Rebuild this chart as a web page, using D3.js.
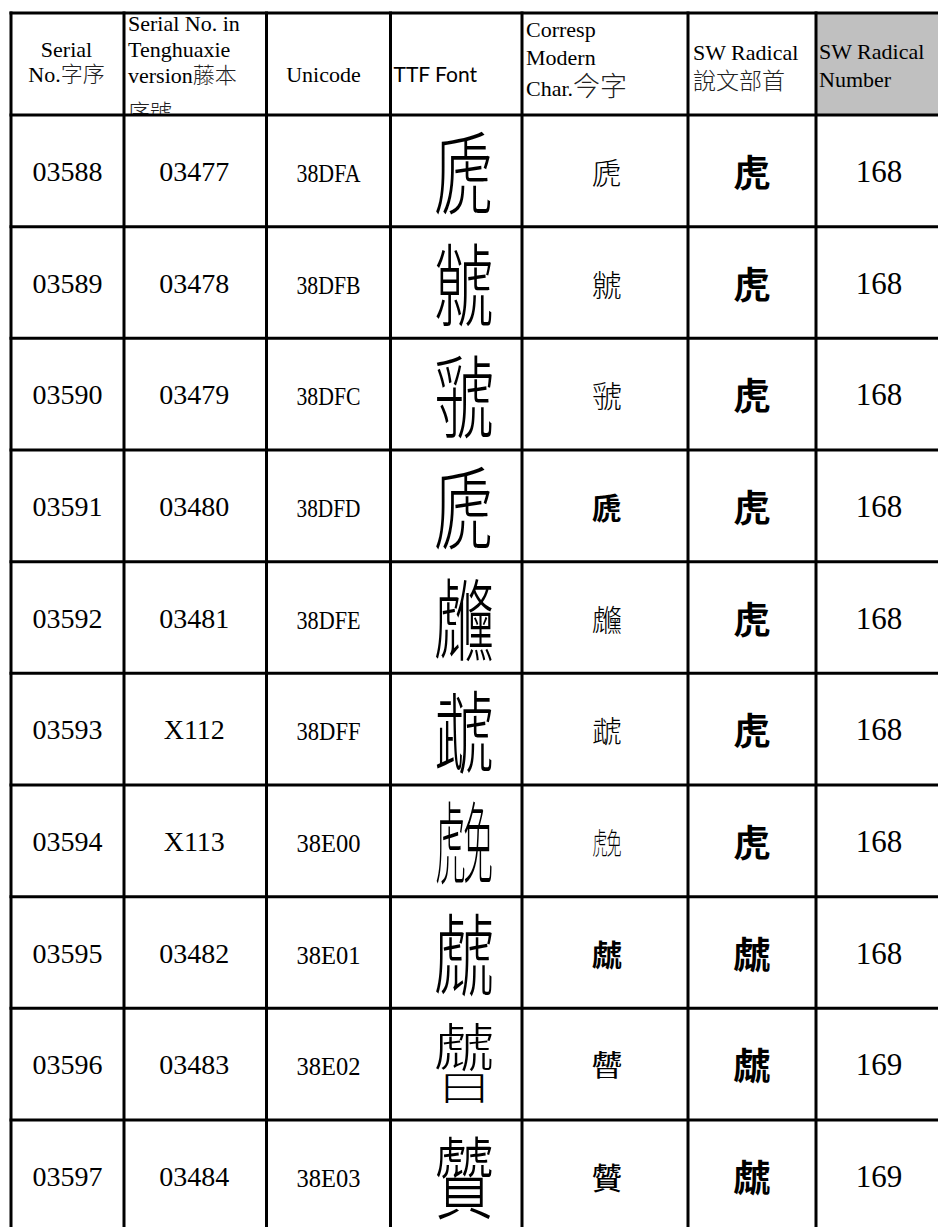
<!DOCTYPE html>
<html><head><meta charset="utf-8">
<script src="https://cdn.jsdelivr.net/npm/d3@7"></script>
<style>html,body{margin:0;padding:0;background:#fff;overflow:hidden}</style>
</head><body>
<svg id="chart" width="938" height="1227"></svg>
<script>
// ---------- data ----------
const serialNo      = ["03588","03589","03590","03591","03592","03593","03594","03595","03596","03597"];
const tenghuaNo     = ["03477","03478","03479","03480","03481","X112","X113","03482","03483","03484"];
const unicodeCodes  = ["38DFA","38DFB","38DFC","38DFD","38DFE","38DFF","38E00","38E01","38E02","38E03"];
const sealChars     = ["虒","虩","虢","虒","虪","虣","虎免","虤","虤曰","贙"];
const modernChars   = ["虒","虩","虢","虒","虪","虣","虎免","虤","虤曰","贙"];
const swRadicals    = ["虎","虎","虎","虎","虎","虎","虎","虤","虤","虤"];
const radicalNums   = ["168","168","168","168","168","168","168","168","169","169"];
const columnKeys    = ["serial","tenghua","unicode","ttf","modern","radical","radnum"];
const headerLines   = [
  ["Serial","No.字序"],
  ["Serial No. in","Tenghuaxie","version藤本","序號"],
  ["Unicode"],
  ["TTF Font"],
  ["Corresp","Modern","Char.今字"],
  ["SW Radical","說文部首"],
  ["SW Radical","Number"]
];

// ---------- layout / style (not data) ----------
const colEdges = [11,124,266.5,390.5,522,688,816,942];
const headTop = 13, headBottom = 115, rowH = 111.67;
const modernWeight = [300,300,300,700,300,300,300,700,500,500];
const glyphCompose = ["h","h","h","h","h","h","h","h","v","h"]; // how multi-part glyphs are stacked

const SERIF = "'Liberation Serif','Times New Roman','Noto Sans CJK TC',serif";
const CJK = "'Noto Sans CJK TC','Noto Sans CJK SC',sans-serif";

const svg = d3.select("#chart");

const xLeft = d3.scaleOrdinal().domain(columnKeys).range(colEdges.slice(0,-1));
const xRight = d3.scaleOrdinal().domain(columnKeys).range(colEdges.slice(1));
const xMid = k => (xLeft(k) + xRight(k)) / 2;
const y = d3.scaleBand().domain(serialNo).range([headBottom, headBottom + rowH*serialNo.length]).padding(0);
const yMid = s => y(s) + y.bandwidth()/2;

// header background for last column
svg.append("rect")
  .attr("x", xLeft("radnum")).attr("y", headTop)
  .attr("width", xRight("radnum") - xLeft("radnum")).attr("height", headBottom - headTop)
  .attr("fill", "#c0c0c0");

const defs = svg.append("defs");
defs.append("clipPath").attr("id","headclip").append("rect")
  .attr("x",0).attr("y",headTop).attr("width",938).attr("height",headBottom-headTop);

const head = svg.append("g").attr("clip-path","url(#headclip)");

function addLines(colKey, lines, opts) {
  lines.forEach((ln, i) => {
    const x = opts.anchor === "middle" ? xMid(colKey) + (opts.dx||0) : xLeft(colKey) + opts.dx;
    const t = head.append("text")
      .attr("x", x).attr("y", opts.baselines[i])
      .attr("font-family", opts.family || SERIF)
      .attr("font-size", opts.size || 22)
      .attr("text-anchor", opts.anchor || "start")
      .attr("fill", "#000");
    const parts = ln.match(/[\u3400-\u9fff\uf900-\ufaff]+|[^\u3400-\u9fff\uf900-\ufaff]+/g);
    parts.forEach(p => {
      const isCJK = /[\u3400-\u9fff]/.test(p);
      t.append("tspan").text(p)
        .attr("font-family", isCJK ? CJK : null)
        .attr("font-weight", isCJK ? 300 : null)
        .attr("fill", isCJK ? "#222" : null)
        .attr("font-size", isCJK && opts.cjkSize ? opts.cjkSize : null);
    });
  });
}
addLines("serial", headerLines[0], {anchor:"middle", dx:-1, baselines:[57,82]});
addLines("tenghua", headerLines[1], {dx:4, baselines:[31,57,83,120]});
addLines("unicode", headerLines[2], {anchor:"middle", dx:-5, baselines:[82]});
addLines("ttf", headerLines[3], {dx:3, family:"Lato,'Liberation Sans',sans-serif", size:21, baselines:[82]});
addLines("modern", headerLines[4], {dx:4, baselines:[37,65,96], cjkSize:27});
addLines("radical", headerLines[5], {dx:5, baselines:[60,89], cjkSize:23});
addLines("radnum", headerLines[6], {dx:3, baselines:[59,87]});

// ---------- body ----------
const rows = svg.append("g").selectAll("g.row")
  .data(serialNo.map((s,i)=>({s, i})))
  .join("g").attr("class","row");

rows.append("text")
  .attr("x", xMid("serial")).attr("y", d => yMid(d.s) + 10)
  .attr("text-anchor","middle").attr("font-family",SERIF).attr("font-size",28)
  .text(d => serialNo[d.i]);

rows.append("text")
  .attr("x", xMid("tenghua") - 1).attr("y", d => yMid(d.s) + 10)
  .attr("text-anchor","middle").attr("font-family",SERIF).attr("font-size",28)
  .text(d => tenghuaNo[d.i]);

rows.append("text")
  .attr("x", xMid("unicode")).attr("y", d => yMid(d.s) + 11)
  .attr("text-anchor","middle").attr("font-family",SERIF).attr("font-size",26)
  .attr("textLength", 64).attr("lengthAdjust","spacingAndGlyphs")
  .text(d => unicodeCodes[d.i]);

// glyph drawing: single char, or two parts composed horizontally / vertically
function drawGlyph(sel, str, mode, cx, cy, size, sx, sy, weight) {
  const chars = Array.from(str);
  const n = chars.length;
  const put = (c, tx, ty, kx, ky) => sel.append("text")
      .attr("transform", `translate(${tx},${ty}) scale(${kx},${ky})`)
      .attr("text-anchor","middle").attr("dominant-baseline","central")
      .attr("font-family", CJK).attr("font-size", size).attr("font-weight", weight)
      .attr("fill","#000")
      .text(c);
  if (n === 1) { put(chars[0], cx, cy, sx, sy); return; }
  if (mode === "v") {
    const h = size * sy * 0.92;
    put(chars[0], cx, cy - h*0.2, sx, sy*0.58);
    put(chars[1], cx, cy + h*0.3, sx*0.85, sy*0.4);
  } else {
    chars.forEach((c, j) => {
      const off = (j - (n-1)/2) * size * sx * 0.92 / n;
      put(c, cx + off, cy, sx / n, sy);
    });
  }
}

rows.each(function(d) {
  const g = d3.select(this);
  drawGlyph(g, sealChars[d.i], glyphCompose[d.i], xMid("ttf") + 8, yMid(d.s) - 3, 62, 0.97, 1.45, 300);
  drawGlyph(g, modernChars[d.i], glyphCompose[d.i], xMid("modern") + 2, yMid(d.s), 30, 1, 1, modernWeight[d.i]);
});

rows.append("text")
  .attr("x", xMid("radical")).attr("y", d => yMid(d.s))
  .attr("text-anchor","middle").attr("dominant-baseline","central")
  .attr("font-family",CJK).attr("font-weight",700).attr("font-size",37)
  .text(d => swRadicals[d.i]);

rows.append("text")
  .attr("x", xMid("radnum")).attr("y", d => yMid(d.s) + 11)
  .attr("text-anchor","middle").attr("font-family",SERIF).attr("font-size",31)
  .text(d => radicalNums[d.i]);

// ---------- grid lines ----------
const bottom = headBottom + rowH*serialNo.length;
const grid = svg.append("g").attr("stroke","#000").attr("stroke-width",3);
grid.selectAll("line.v").data(colEdges).join("line")
  .attr("x1", d=>d).attr("x2", d=>d).attr("y1", headTop-1.5).attr("y2", bottom);
const hLines = [headTop, ...serialNo.map(s => y(s)), bottom];
grid.selectAll("line.h").data(hLines).join("line")
  .attr("x1", colEdges[0]-1.5).attr("x2", colEdges[colEdges.length-1]).attr("y1", d=>d).attr("y2", d=>d);
</script>
</body></html>
